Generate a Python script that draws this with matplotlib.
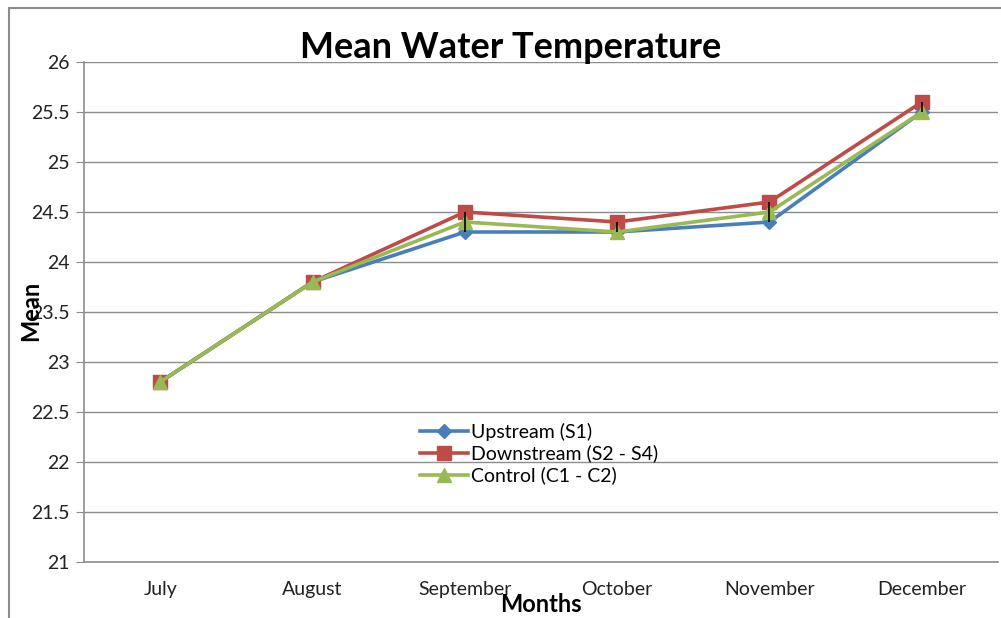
import numpy as np
import matplotlib
matplotlib.use('Agg')
import matplotlib.pyplot as plt
from matplotlib.patches import Rectangle

plt.rcParams['font.family'] = ['Lato', 'DejaVu Sans']

months = ['July', 'August', 'September', 'October', 'November', 'December']
upstream = [22.8, 23.8, 24.3, 24.3, 24.4, 25.5]
downstream = [22.8, 23.8, 24.5, 24.4, 24.6, 25.6]
control = [22.8, 23.8, 24.4, 24.3, 24.5, 25.5]
y_ticks = [21, 21.5, 22, 22.5, 23, 23.5, 24, 24.5, 25, 25.5, 26]

W, H = 1001, 618
fig = plt.figure(figsize=(W / 100, H / 100), dpi=100)
ax = fig.add_axes([84 / W, (H - 562) / H, (998 - 84) / W, 500 / H])

# outer chart border (cropped on right and bottom)
fig.patches.append(Rectangle((9 / W, -0.05), 1.2, (H - 8) / H + 0.05,
                             transform=fig.transFigure, fill=False,
                             edgecolor='#8c8c8c', lw=1.5))

x = np.arange(len(months)) + 0.5

# high-low lines between series
hi = np.max([upstream, downstream, control], axis=0)
lo = np.min([upstream, downstream, control], axis=0)
ax.vlines(x, lo, hi, color='black', lw=1.2, zorder=5)

ax.plot(x, upstream, color='#4a7ebb', lw=2.6, marker='D', ms=7,
        label='Upstream (S1)', zorder=3)
ax.plot(x, downstream, color='#be4b48', lw=2.6, marker='s', ms=10,
        label='Downstream (S2 - S4)', zorder=4)
ax.plot(x, control, color='#98b954', lw=2.6, marker='^', ms=10,
        label='Control (C1 - C2)', zorder=4.5)

ax.set_xlim(0, len(months))
ax.set_ylim(21, 26)
ax.set_yticks(y_ticks)
ax.set_yticklabels([f'{t:g}' for t in y_ticks])
ax.set_xticks(x)
ax.set_xticklabels(months)
ax.grid(axis='y', color='#8c8c8c', lw=1)
ax.set_axisbelow(True)

for s in ['top', 'right']:
    ax.spines[s].set_visible(False)
for s in ['left', 'bottom']:
    ax.spines[s].set_color('#8c8c8c')
    ax.spines[s].set_linewidth(1.2)

ax.tick_params(axis='y', length=6, color='#8c8c8c', pad=4, labelsize=14,
               labelcolor='#222222')
ax.tick_params(axis='x', length=0, pad=14, labelsize=14, labelcolor='#222222')

fig.text(511 / W, 1 - 48 / H, 'Mean Water Temperature', ha='center', va='center',
         fontsize=26, fontweight='bold')
fig.text(31 / W, 1 - 311 / H, 'Mean', ha='center', va='center', rotation=90,
         fontsize=17, fontweight='bold')
fig.text(541 / W, 1 - 605 / H, 'Months', ha='center', va='center',
         fontsize=17, fontweight='bold')

ax.legend(loc='upper left', bbox_to_anchor=((410 - 84) / (998 - 84), (562 - 413) / 500),
          frameon=False, fontsize=14, handlelength=2.5, handletextpad=0.15,
          labelspacing=0.2, borderpad=0)

fig.savefig('out.png', dpi=100)
